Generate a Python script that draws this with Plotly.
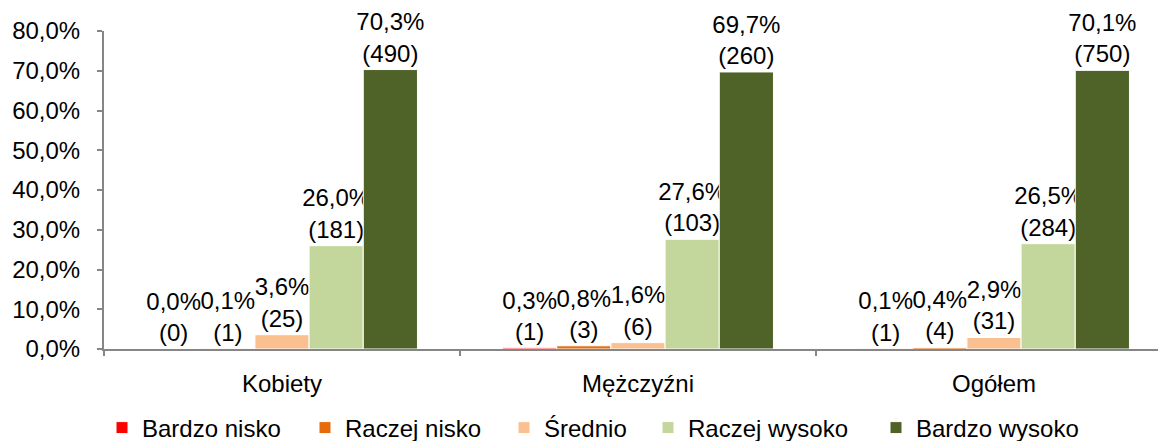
import plotly.graph_objects as go

categories = ["Kobiety", "Mężczyźni", "Ogółem"]
series_names = ["Bardzo nisko", "Raczej nisko", "Średnio", "Raczej wysoko", "Bardzo wysoko"]
colors = ["#FF0000", "#E46C0A", "#FAC090", "#C3D69B", "#4F6228"]

bardzo_nisko_pct = [0.0, 0.3, 0.1]
raczej_nisko_pct = [0.1, 0.8, 0.4]
srednio_pct = [3.6, 1.6, 2.9]
raczej_wysoko_pct = [26.0, 27.6, 26.5]
bardzo_wysoko_pct = [70.3, 69.7, 70.1]

bardzo_nisko_n = [0, 1, 1]
raczej_nisko_n = [1, 3, 4]
srednio_n = [25, 6, 31]
raczej_wysoko_n = [181, 103, 284]
bardzo_wysoko_n = [490, 260, 750]

pct_series = [bardzo_nisko_pct, raczej_nisko_pct, srednio_pct, raczej_wysoko_pct, bardzo_wysoko_pct]
n_series = [bardzo_nisko_n, raczej_nisko_n, srednio_n, raczej_wysoko_n, bardzo_wysoko_n]

FONT = "Liberation Sans, Arial, sans-serif"
FS = 24
FIG_W, FIG_H = 1166, 441
# legend entry left positions (px, figure coords)
legend_x_px = [94, 297, 496, 640, 868]

fig = go.Figure()
legend_ids = ["legend", "legend2", "legend3", "legend4", "legend5"]
for i, (name, col, pcts, ns) in enumerate(zip(series_names, colors, pct_series, n_series)):
    labels = [f"{p:.1f}".replace(".", ",") + f"%<br>({n})" for p, n in zip(pcts, ns)]
    fig.add_trace(go.Bar(
        x=categories, y=pcts, name=name, legend=legend_ids[i],
        marker=dict(color=col, line=dict(width=1, color="white")),
        text=labels, textposition="outside", textangle=0,
        constraintext="none", cliponaxis=False,
        textfont=dict(family=FONT, size=FS, color="black"),
        hoverinfo="skip",
    ))

plot_top, plot_bottom = 23, 341
legend_y = (plot_bottom - 420) / (plot_bottom - plot_top)
legends = {}
for i, lid in enumerate(legend_ids):
    legends[lid] = dict(orientation="h", xref="container", x=legend_x_px[i] / FIG_W, xanchor="left",
                        yref="paper", y=legend_y, yanchor="middle",
                        font=dict(family=FONT, size=FS, color="black"),
                        itemwidth=30, bgcolor="rgba(0,0,0,0)")

# the page body adds an 8px offset, margins compensate
fig.update_layout(
    width=FIG_W, height=FIG_H,
    margin=dict(l=96, r=2, t=plot_top, b=FIG_H - plot_bottom, autoexpand=False),
    paper_bgcolor="white", plot_bgcolor="white",
    barmode="group", bargap=0.239, bargroupgap=0,
    separators=", ",
    font=dict(family=FONT, size=FS, color="black"),
    showlegend=True,
    **legends,
)
fig.update_yaxes(range=[0, 80], dtick=10, tickformat=".1f", ticksuffix="%",
                 showgrid=False, zeroline=False, automargin=False,
                 showline=True, linecolor="#868686", linewidth=2,
                 ticks="outside", ticklen=5, tickcolor="#868686", tickwidth=2,
                 ticklabelstandoff=12,
                 tickfont=dict(family=FONT, size=FS, color="black"))
fig.update_xaxes(showgrid=False, showline=True, linecolor="#868686", linewidth=2,
                 automargin=False,
                 ticks="outside", tickson="boundaries", ticklen=5, tickcolor="#868686", tickwidth=2,
                 ticklabelstandoff=12,
                 tickfont=dict(family=FONT, size=FS, color="black"))

fig.write_html("out.html")
